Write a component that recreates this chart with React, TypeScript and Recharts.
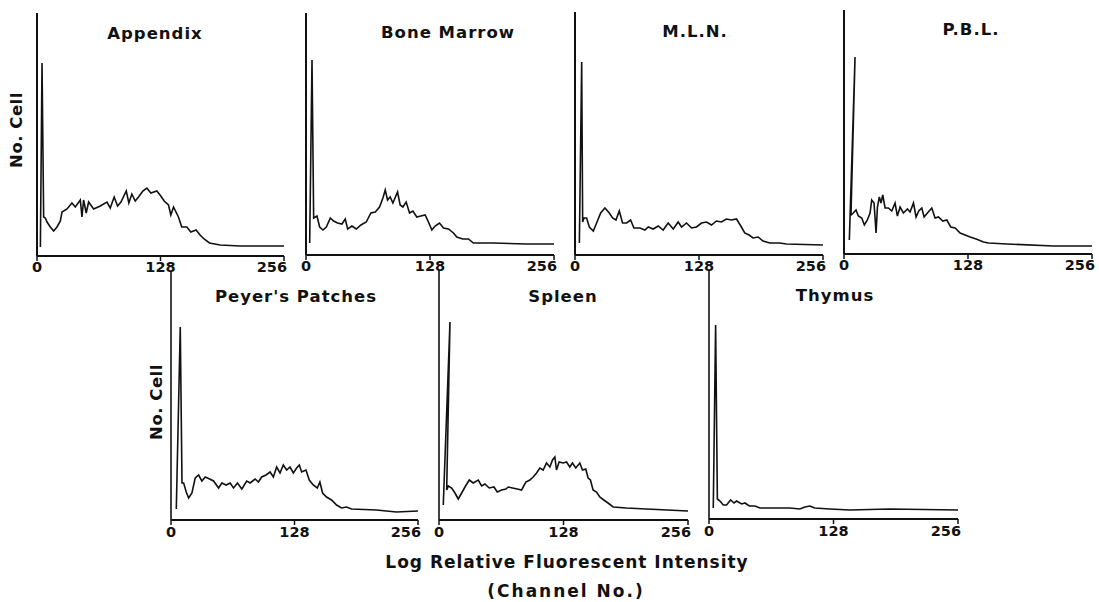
import { LineChart, Line, XAxis, YAxis, ReferenceLine } from 'recharts'

// [channel, cell count] (count in plot px units)
type Pt = [number, number]

const appendix: Pt[] = [
  [3.5, 9], [5.2, 193], [6.9, 39], [8.6, 38], [10.4, 34], [13.8, 29], [17.3, 25], [20.7, 29],
  [24.2, 35], [25.9, 44], [31.1, 47], [36.2, 53], [39.7, 49], [44.9, 56], [46.6, 39], [48.3, 56],
  [51, 43], [53.5, 54], [58.7, 47], [65.6, 50], [72.5, 54], [75.9, 48], [80, 59], [83.5, 50],
  [87, 54], [92.5, 65], [95.2, 53], [98.3, 62], [101.8, 55], [105.2, 59], [109.7, 65], [113.9, 68],
  [118, 63], [124.2, 65], [128.3, 60], [131.8, 55], [136.3, 51], [138.7, 41], [141.5, 49], [146.6, 39],
  [150, 29], [155.3, 29], [159.4, 24], [164.9, 26], [169, 21], [173.2, 17], [178.7, 13], [189.8, 11],
  [210.5, 10], [256, 10],
]

const boneMarrow: Pt[] = [
  [3.8, 12], [6.2, 195], [7.9, 37], [11.3, 39], [14.1, 28], [17.5, 25], [21, 28], [25.1, 37],
  [28.5, 34], [32.6, 32], [37.1, 31], [40.5, 36], [43, 26], [47.4, 29], [51.9, 26], [56.7, 30],
  [62.2, 33], [67, 42], [71.5, 43], [75.9, 48], [79.4, 57], [81.8, 65], [84.2, 55], [86.9, 58],
  [89.7, 52], [94.5, 63], [97.2, 50], [100, 48], [103.4, 53], [106.9, 42], [110.3, 44], [114.4, 38],
  [118.5, 39], [123, 40], [126.4, 33], [129.9, 25], [133.3, 29], [137.8, 32], [141.9, 27], [147.1, 26],
  [152.2, 22], [155.6, 18], [161.8, 16], [167.7, 16], [172.8, 12], [193.4, 12], [227.8, 11], [256, 11],
]

const mln: Pt[] = [
  [4.5, 12], [6.9, 193], [7.9, 33], [9.3, 37], [12, 37], [14.8, 28], [18.9, 24], [22.3, 32],
  [26.5, 42], [30.9, 47], [35.4, 42], [38.8, 37], [42.3, 35], [45.7, 44], [49.1, 32], [53.3, 32],
  [57.4, 35], [60.8, 27], [67, 27], [72.2, 25], [75.6, 28], [80.7, 26], [85.9, 29], [91, 25],
  [96.2, 32], [101.4, 26], [106.5, 33], [110, 28], [115.1, 32], [120.3, 27], [125.4, 28], [130.6, 32],
  [135.7, 33], [140.9, 30], [146, 34], [151.2, 33], [156.3, 36], [161.5, 35], [166.7, 36], [171.8, 28],
  [175.2, 22], [179.7, 20], [183.8, 17], [189, 18], [194.1, 14], [201, 12], [211.3, 12], [218.2, 11],
  [256, 10],
]

const pbl: Pt[] = [
  [5.5, 14], [11.4, 197], [7.2, 39], [9.6, 41], [12.4, 44], [14.8, 38], [18.3, 36], [21, 29],
  [24.1, 34], [26.9, 41], [28.6, 54], [31, 51], [33.1, 21], [34.5, 47], [36.5, 57], [38.2, 51],
  [40, 59], [42.4, 46], [45.8, 46], [49.3, 43], [52.7, 51], [55.1, 38], [57.9, 47], [61.3, 41],
  [65.5, 45], [68.2, 42], [71.7, 51], [74.4, 37], [77.2, 43], [80.3, 46], [82.7, 37], [86.1, 41],
  [90.6, 46], [94, 36], [97.5, 37], [102, 33], [106.1, 34], [110.2, 27], [114.7, 26], [119.9, 21],
  [125, 19], [130.2, 17], [136.4, 15], [144, 12], [149.2, 11], [168.1, 10], [216.3, 8], [256, 8],
]

const peyers: Pt[] = [
  [5.5, 11], [9.6, 193], [11.4, 37], [13.1, 37], [15.8, 28], [18.3, 22], [21.7, 27], [25.1, 42],
  [28.6, 45], [32, 39], [35.5, 43], [40, 41], [44.1, 39], [49.3, 32], [52.7, 37], [57.2, 35],
  [61.3, 37], [64.8, 32], [68.9, 37], [73.4, 31], [78.5, 39], [82, 37], [87.2, 41], [90.6, 38],
  [94, 43], [98.5, 45], [102.7, 48], [106.1, 43], [109.5, 53], [113, 47], [116.4, 55], [119.9, 50],
  [123.3, 53], [126.8, 47], [130.2, 52], [133, 55], [135.4, 48], [139.9, 50], [143.3, 40], [147.4, 35],
  [151.6, 32], [154.3, 38], [157.1, 27], [161.2, 23], [166.4, 20], [171.6, 15], [176.7, 12], [181.9, 13],
  [187.1, 11], [212.9, 10], [233.6, 8], [256, 9],
]

const spleen: Pt[] = [
  [4.4, 15], [11.3, 198], [7.9, 30], [9.6, 34], [13, 32], [16.4, 27], [19.8, 21], [23.3, 27],
  [26.7, 33], [31.1, 40], [35.2, 37], [40.4, 40], [43.8, 34], [47.2, 36], [51.7, 32], [56.5, 33],
  [59.9, 28], [64.3, 30], [68.8, 31], [71.2, 33], [75.6, 32], [80.4, 31], [84.9, 30], [89.3, 38],
  [93.4, 40], [96.8, 43], [100.3, 47], [103.7, 52], [107.1, 50], [110.5, 57], [114, 53], [116.7, 60],
  [119.1, 63], [120.8, 50], [123.5, 58], [127.6, 57], [131.1, 58], [134.5, 53], [137.2, 57], [140.6, 52],
  [144.8, 57], [147.5, 50], [150.9, 51], [153.3, 42], [155.7, 40], [158.4, 30], [161.9, 28], [165.3, 23],
  [169.4, 20], [173.8, 17], [179, 13], [192.7, 12], [213.2, 11], [256, 9],
]

const thymus: Pt[] = [
  [4.4, 11], [6.8, 194], [8.6, 20], [11.3, 18], [14.7, 14], [18.1, 14], [22.2, 19], [25.7, 16],
  [28.4, 18], [33.5, 15], [37, 16], [41.4, 13], [47.2, 13], [52.4, 11], [62.6, 11], [71.2, 11],
  [83.2, 11], [93.4, 10], [98.6, 12], [103.7, 13], [108.8, 11], [124.2, 10], [144.8, 9], [185.8, 10],
  [256, 9],
]

const channelTicks = [0, 128, 256]
const yLabel = 'No. Cell'
const xLabel = 'Log Relative Fluorescent Intensity'
const xLabel2 = '(Channel No.)'

const INK = '#111'
const FONT = '"DejaVu Sans", Verdana, sans-serif'

// plot boxes are in page px: x/y = top-left of the plot area
const panels = [
  { title: 'Appendix', data: appendix, box: { x: 37, y: 13, w: 247, h: 243 }, tx: 155, ty: 39, row: 0 },
  { title: 'Bone Marrow', data: boneMarrow, box: { x: 306, y: 13, w: 248, h: 242 }, tx: 448, ty: 38, row: 0 },
  { title: 'M.L.N.', data: mln, box: { x: 575, y: 12, w: 248, h: 243 }, tx: 695, ty: 37, row: 0 },
  { title: 'P.B.L.', data: pbl, box: { x: 844, y: 10, w: 248, h: 244 }, tx: 971, ty: 35, row: 0 },
  { title: "Peyer's Patches", data: peyers, box: { x: 171, y: 272, w: 247, h: 248 }, tx: 296, ty: 302, row: 1 },
  { title: 'Spleen', data: spleen, box: { x: 439, y: 270, w: 249, h: 250 }, tx: 563, ty: 302, row: 1 },
  { title: 'Thymus', data: thymus, box: { x: 709, y: 270, w: 249, h: 249 }, tx: 835, ty: 301, row: 1 },
]

const toRows = (pts: Pt[]) => pts.map(([ch, n]) => ({ ch, n }))

function TickLabel({ x, y, payload, drop }: any) {
  const isEnd = payload.value === 256
  return (
    <text
      x={isEnd ? x + 3 : x}
      y={y + drop}
      textAnchor={isEnd ? 'end' : 'middle'}
      fill={INK}
      fontFamily={FONT}
      fontWeight={700}
      fontSize={14.5}
    >
      {payload.value}
    </text>
  )
}

function Histogram({ panel }: { panel: (typeof panels)[number] }) {
  const { box } = panel
  const padL = 12, padR = 16, padT = 2, axisH = 30
  const drop = panel.row === 0 ? 8.5 : 10
  return (
    <div style={{ position: 'absolute', left: box.x - padL, top: box.y - padT }}>
      <LineChart
        width={box.w + padL + padR}
        height={box.h + padT + axisH}
        data={toRows(panel.data)}
        margin={{ top: padT, right: padR, bottom: 0, left: padL }}
      >
        <XAxis
          type="number"
          dataKey="ch"
          domain={[0, 256]}
          ticks={channelTicks}
          interval={0}
          allowDataOverflow
          height={axisH}
          tickSize={5}
          axisLine={{ stroke: INK, strokeWidth: 2 }}
          tickLine={{ stroke: INK, strokeWidth: 1.5 }}
          tick={(p: any) => <TickLabel {...p} drop={drop} />}
        />
        <YAxis hide type="number" domain={[0, box.h]} allowDataOverflow />
        <ReferenceLine x={0} stroke={INK} strokeWidth={panel.row === 0 ? 2 : 1.6} />
        <Line
          type="linear"
          dataKey="n"
          stroke={INK}
          strokeWidth={1.6}
          dot={false}
          activeDot={false}
          isAnimationActive={false}
        />
      </LineChart>
    </div>
  )
}

export default function App() {
  const textProps = { fill: INK, fontFamily: FONT, fontWeight: 700 }
  return (
    <div style={{ position: 'relative', width: 1099, height: 602, background: '#fff', overflow: 'hidden' }}>
      <style>{'body{margin:0}'}</style>
      {panels.map(p => (
        <Histogram key={p.title} panel={p} />
      ))}
      <svg width={1099} height={602} style={{ position: 'absolute', left: 0, top: 0, pointerEvents: 'none' }}>
        {panels.map(p => (
          <text key={p.title} x={p.tx} y={p.ty} textAnchor="middle" fontSize={16.5} letterSpacing={1} {...textProps}>
            {p.title}
          </text>
        ))}
        <text transform="translate(22,130) rotate(-90)" textAnchor="middle" fontSize={16.5} letterSpacing={0.5} {...textProps}>
          {yLabel}
        </text>
        <text transform="translate(161.5,402) rotate(-90)" textAnchor="middle" fontSize={16.5} letterSpacing={0.5} {...textProps}>
          {yLabel}
        </text>
        <text x={567} y={568} textAnchor="middle" fontSize={17} letterSpacing={1} {...textProps}>
          {xLabel}
        </text>
        <text x={566} y={597} textAnchor="middle" fontSize={17} letterSpacing={2} {...textProps}>
          {xLabel2}
        </text>
      </svg>
    </div>
  )
}
